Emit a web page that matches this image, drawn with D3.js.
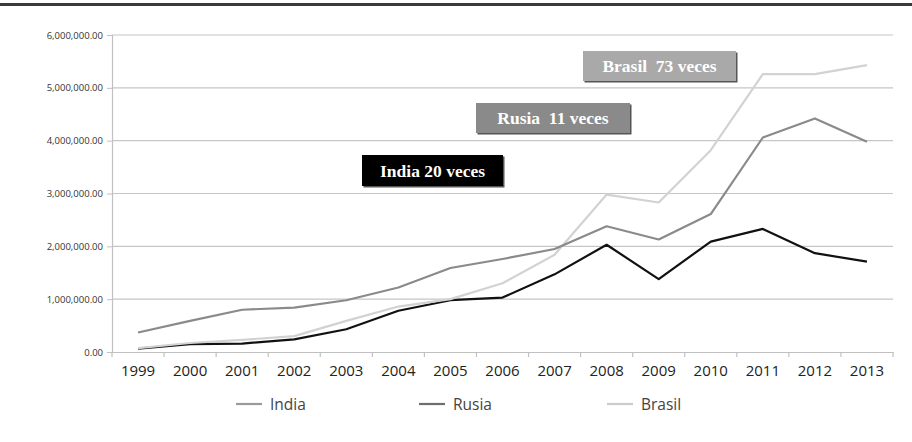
<!DOCTYPE html>
<html><head><meta charset="utf-8">
<script src="https://cdn.jsdelivr.net/npm/d3@7"></script>
<style>html,body{margin:0;padding:0;background:#fff;}svg{display:block;}</style>
</head><body>
<svg id="chart" width="912" height="442"></svg>
<script>
const years = ["1999","2000","2001","2002","2003","2004","2005","2006","2007","2008","2009","2010","2011","2012","2013"];
const india  = [370000,590000,800000,840000,980000,1220000,1590000,1760000,1950000,2380000,2130000,2610000,4060000,4420000,3980000];
const rusia  = [65000,150000,160000,240000,430000,780000,980000,1030000,1470000,2030000,1380000,2090000,2330000,1870000,1710000];
const brasil = [72000,170000,230000,300000,590000,860000,1000000,1300000,1840000,2980000,2830000,3820000,5260000,5260000,5430000];
const yTicks = [0,1000000,2000000,3000000,4000000,5000000,6000000];
const seriesNames = ["India","Rusia","Brasil"];
const notes = [
  {text:"Brasil  73 veces"},
  {text:"Rusia  11 veces"},
  {text:"India 20 veces"}
];

const svg = d3.select("#chart");
const L = 112, R = 893, T = 35, B = 352;
const x = d3.scaleBand().domain(years).range([L, R]).padding(0);
const y = d3.scaleLinear().domain([0, 6000000]).range([B, T]);

// top border
svg.append("rect").attr("x",0).attr("y",3).attr("width",912).attr("height",3).attr("fill","#3a3a3a");

// gridlines
svg.append("g").selectAll("line").data(yTicks.filter(d=>d>0)).join("line")
  .attr("x1",L).attr("x2",R).attr("y1",d=>y(d)).attr("y2",d=>y(d))
  .attr("stroke","#c6c6c6").attr("stroke-width",1.2);

// y axis
const yAxis = svg.append("g").attr("transform",`translate(${L},0)`)
  .call(d3.axisLeft(y).tickValues(yTicks).tickFormat(d3.format(",.2f")).tickSize(5).tickPadding(4));
yAxis.select(".domain").attr("stroke","#c0c0c0").attr("stroke-width",1.2);
yAxis.selectAll(".tick line").attr("stroke","#c0c0c0");
yAxis.selectAll("text").attr("font-family","'Open Sans', sans-serif").attr("font-size",9.5).attr("fill","#333");

// x axis
const xAxis = svg.append("g").attr("transform",`translate(0,${B})`)
  .call(d3.axisBottom(x).tickSize(0).tickPadding(13));
xAxis.select(".domain").attr("stroke","#c0c0c0").attr("stroke-width",1.2);
xAxis.selectAll("text").attr("font-family","'Open Sans', sans-serif").attr("font-size",15).attr("fill","#222");
// boundary tick marks between categories
svg.append("g").selectAll("line").data(years.concat(["end"])).join("line")
  .attr("x1",(d,i)=>L + i*x.bandwidth()).attr("x2",(d,i)=>L + i*x.bandwidth())
  .attr("y1",B).attr("y2",B+5).attr("stroke","#c0c0c0").attr("stroke-width",1.2);

const line = d3.line().x((d,i)=>x(years[i]) + x.bandwidth()/2).y(d=>y(d));
const data = [
  {name:"Rusia", vals:rusia, color:"#111111"},
  {name:"Brasil", vals:brasil, color:"#d2d2d2"},
  {name:"India", vals:india, color:"#8a8a8a"}
];
svg.append("g").selectAll("path").data(data).join("path")
  .attr("d",d=>line(d.vals)).attr("fill","none")
  .attr("stroke",d=>d.color).attr("stroke-width",2.2).attr("stroke-linejoin","round");

// legend
const legendColors = {"India":"#9a9a9a","Rusia":"#6e6e6e","Brasil":"#cccccc"};
const legendX = [236, 419, 607];
const lg = svg.append("g").selectAll("g").data(seriesNames).join("g")
  .attr("transform",(d,i)=>`translate(${legendX[i]},404)`);
lg.append("line").attr("x1",0).attr("x2",26).attr("y1",0).attr("y2",0)
  .attr("stroke",d=>legendColors[d]).attr("stroke-width",2.2);
lg.append("text").attr("x",34).attr("y",5.5).text(d=>d)
  .attr("font-family","'Open Sans', sans-serif").attr("font-size",15.5).attr("fill","#444");

// annotation boxes
const boxes = [
  {x:583,y:51,w:153,h:30,fill:"#a9a9a9"},
  {x:476,y:103,w:154,h:30,fill:"#8a8a8a"},
  {x:362,y:155,w:141,h:31,fill:"#000000"}
];
const ng = svg.append("g").selectAll("g").data(notes).join("g");
ng.append("rect").attr("x",(d,i)=>boxes[i].x+1.5).attr("y",(d,i)=>boxes[i].y+1.5)
  .attr("width",(d,i)=>boxes[i].w).attr("height",(d,i)=>boxes[i].h).attr("fill","#555");
ng.append("rect").attr("x",(d,i)=>boxes[i].x).attr("y",(d,i)=>boxes[i].y)
  .attr("width",(d,i)=>boxes[i].w).attr("height",(d,i)=>boxes[i].h).attr("fill",(d,i)=>boxes[i].fill);
ng.append("text").attr("x",(d,i)=>boxes[i].x+boxes[i].w/2).attr("y",(d,i)=>boxes[i].y+boxes[i].h/2+6)
  .attr("text-anchor","middle").text(d=>d.text).attr("xml:space","preserve").style("white-space","pre")
  .attr("font-family","'Liberation Serif', serif").attr("font-weight","bold").attr("font-size",17.5).attr("fill","#fff");
</script>
</body></html>
